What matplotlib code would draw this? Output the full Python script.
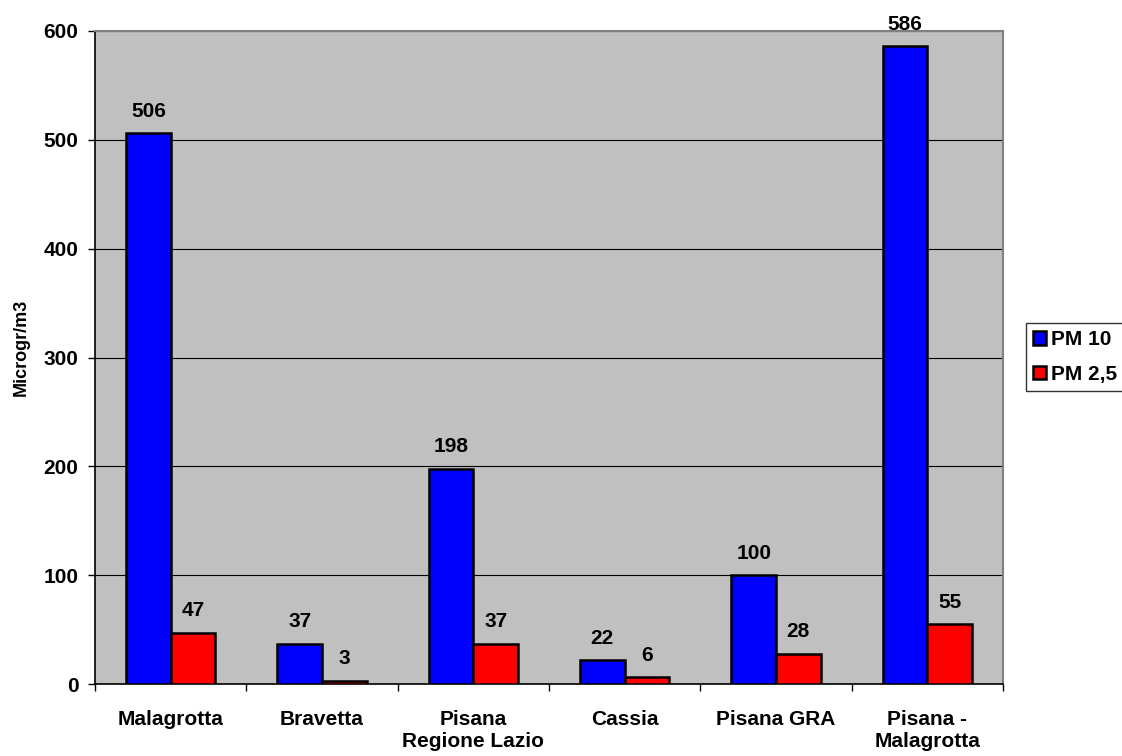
import matplotlib
matplotlib.use("Agg")
import matplotlib.pyplot as plt
import numpy as np
from matplotlib.patches import Patch

categories = ["Malagrotta", "Bravetta", "Pisana\nRegione Lazio", "Cassia", "Pisana GRA", "Pisana -\nMalagrotta"]
pm10 = [506, 37, 198, 22, 100, 586]
pm25 = [47, 3, 37, 6, 28, 55]
series_names = ["PM 10", "PM 2,5"]
yticks = [0, 100, 200, 300, 400, 500, 600]

plt.rcParams['font.family'] = ['Liberation Sans', 'DejaVu Sans']
plt.rcParams['font.weight'] = 'bold'
FS = 15

fig = plt.figure(figsize=(11.22, 7.56), dpi=100)
ax = fig.add_axes([95/1122, 72/756, 908/1122, 653/756])
ax.set_facecolor('#c0c0c0')

x = np.arange(len(categories))
w = 0.295
b1 = ax.bar(x - w/2, pm10, w, color='#0000ff', edgecolor='black', linewidth=1.8, zorder=3)
b2 = ax.bar(x + w/2, pm25, w, color='#ff0000', edgecolor='black', linewidth=1.8, zorder=3)

for bars, vals in ((b1, pm10), (b2, pm25)):
    for r, v in zip(bars, vals):
        ax.annotate(str(v), (r.get_x() + r.get_width()/2, v), xytext=(0, 9),
                    textcoords='offset points', ha='center', va='bottom',
                    fontsize=FS, fontweight='bold')

ax.set_xlim(-0.5, len(categories) - 0.5)
ax.set_ylim(0, 600)
ax.set_yticks(yticks)
ax.set_yticklabels([str(t) for t in yticks], fontsize=FS, fontweight='bold')
ax.yaxis.grid(True, color='black', linewidth=0.8, zorder=1)
ax.set_axisbelow(True)
ax.tick_params(axis='y', direction='out', length=5, width=1, pad=7)

ax.set_xticks(np.arange(len(categories) + 1) - 0.5, minor=False)
ax.set_xticklabels([''] * (len(categories) + 1))
ax.tick_params(axis='x', direction='out', length=5, width=1)
ax.set_xticks(x, minor=True)
ax.set_xticklabels(categories, minor=True, fontsize=FS, fontweight='bold', linespacing=1.2)
ax.tick_params(axis='x', which='minor', length=0, pad=19)

for s in ['top', 'right']:
    ax.spines[s].set_color('#808080')
    ax.spines[s].set_linewidth(1.5)
for s in ['left', 'bottom']:
    ax.spines[s].set_color('black')
    ax.spines[s].set_linewidth(1.2)

ax.set_ylabel('Microgr/m3', fontsize=13, fontweight='bold')
ax.yaxis.set_label_coords(-0.072, 0.515)

handles = [Patch(facecolor='#0000ff', edgecolor='black', linewidth=1.8),
           Patch(facecolor='#ff0000', edgecolor='black', linewidth=1.8)]
leg = fig.legend(handles, series_names, loc='upper left', bbox_to_anchor=(1026/1122, 1 - 323/756),
                 frameon=True, fancybox=False, edgecolor='black', fontsize=FS,
                 handlelength=0.6, handleheight=0.6, handletextpad=0.25,
                 borderpad=0.35, labelspacing=0.75, borderaxespad=0)
leg.get_frame().set_linewidth(1)
for t in leg.get_texts():
    t.set_fontweight('bold')

fig.savefig('out.png', dpi=100)
